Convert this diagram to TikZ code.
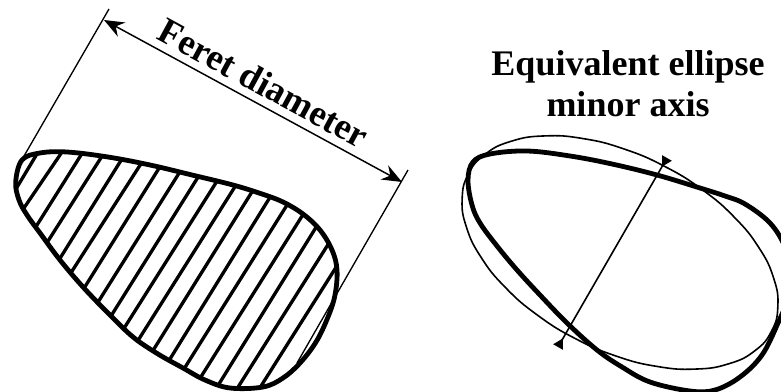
\documentclass[tikz,border=0pt]{standalone}
\usepackage{fontspec}
\setmainfont{Liberation Serif}
\usetikzlibrary{arrows.meta}
\tikzset{
  outline/.style={line width=3.6pt,line join=round},
  hatchline/.style={line width=2.5pt,shorten <=-6pt,shorten >=-6pt},
  thin line/.style={line width=1pt},
  dim/.style={line width=1.1pt,{Stealth[length=15pt,width=12pt,inset=5pt]}-{Stealth[length=15pt,width=12pt,inset=5pt]}},
  minoraxis/.style={line width=1.2pt,{Triangle[reversed,length=7.5pt,width=8pt]}-{Triangle[reversed,length=7.5pt,width=8pt]}},
  label/.style={font=\fontsize{27}{27}\selectfont\bfseries,inner sep=0pt,anchor=base},
  biglabel/.style={font=\fontsize{27.5}{28}\selectfont\bfseries,inner sep=0pt,anchor=base}
}
\def\leftblob{(15.7,182)(22,160)(40,153)(67,152)(108,157)(150,165)(192,175)(233,185)(262,194)(283,202)(303,214)(320,230)(332,250)(337,270)(335,295)(328,317)(316,342)(300,363)(283,378)(263,387)(230,388)(205,380)(183,368)(158,354)(133,337)(108,313)(83,287)(60,260)(40,233)(27,215)(19,200)}
\def\rightblob{(468,180)(473,162)(490,154)(527,151)(570,156)(612,164)(657,175)(700,188)(725,196)(745,204)(770,223)(785,247)(790,272)(787,300)(778,323)(762,355)(740,377)(715,390)(690,391)(650,382)(622,367)(597,350)(567,323)(540,295)(517,270)(497,246)(480,223)(472,205)}
\begin{document}
\begin{tikzpicture}[x=0.75pt,y=-0.75pt]
\useasboundingbox (0,0) rectangle (781,392);
% left blob hatching
\begin{scope}
\clip plot[smooth cycle,tension=0.6] coordinates {\leftblob};
\foreach \a/\b/\c/\d in {55/165/100/90,78/225/182/72,108/290/245/72,143/335/305/80,180/385/365/88,215/425/425/98,255/470/480/110,295/515/540/125,335/555/595/140,372/595/650/155,415/630/705/170,460/660/755/187,505/695/808/205,550/720/858/230,600/745/905/260,655/765/945/297,715/770/980/350,785/765/1003/420}
  \draw[hatchline] ({\a/3},{\b/3+130}) -- ({\c/3},{\d/3+130});
\end{scope}
\draw[outline] plot[smooth cycle,tension=0.6] coordinates {\leftblob};
% tangents
\coordinate (t1a) at (109,9);
\coordinate (t1b) at (20,163);
\coordinate (t2a) at (408,170);
\coordinate (t2b) at (297,363);
\draw[thin line] (t1a) -- (t1b);
\draw[thin line] (t2a) -- (t2b);
\coordinate (fa) at (104,20);
\coordinate (fb) at (402,182);
\draw[dim] (fa) -- (fb);
\node[biglabel,rotate=-28.5] (feret) at (258,94) {Feret diameter};
% right
\begin{scope}
\clip (0,0) rectangle (781,392);
\draw[outline] plot[smooth cycle,tension=0.6] coordinates {\rightblob};
\draw[line width=1.2pt] plot[smooth cycle,tension=0.8,variable=\t,samples at={0,15,...,345}] ({620+170.7*cos(\t)*cos(27.5)-97*sin(\t)*sin(27.5)},{252.5+170.7*cos(\t)*sin(27.5)+97*sin(\t)*cos(27.5)});
\end{scope}
\coordinate (ma) at (667,158);
\coordinate (mb) at (558,347);
\draw[minoraxis] (ma) -- (mb);
\node[label] (t1) at (628,76) {Equivalent ellipse};
\node[label] (t2) at (628,117) {minor axis};
\end{tikzpicture}
\end{document}
